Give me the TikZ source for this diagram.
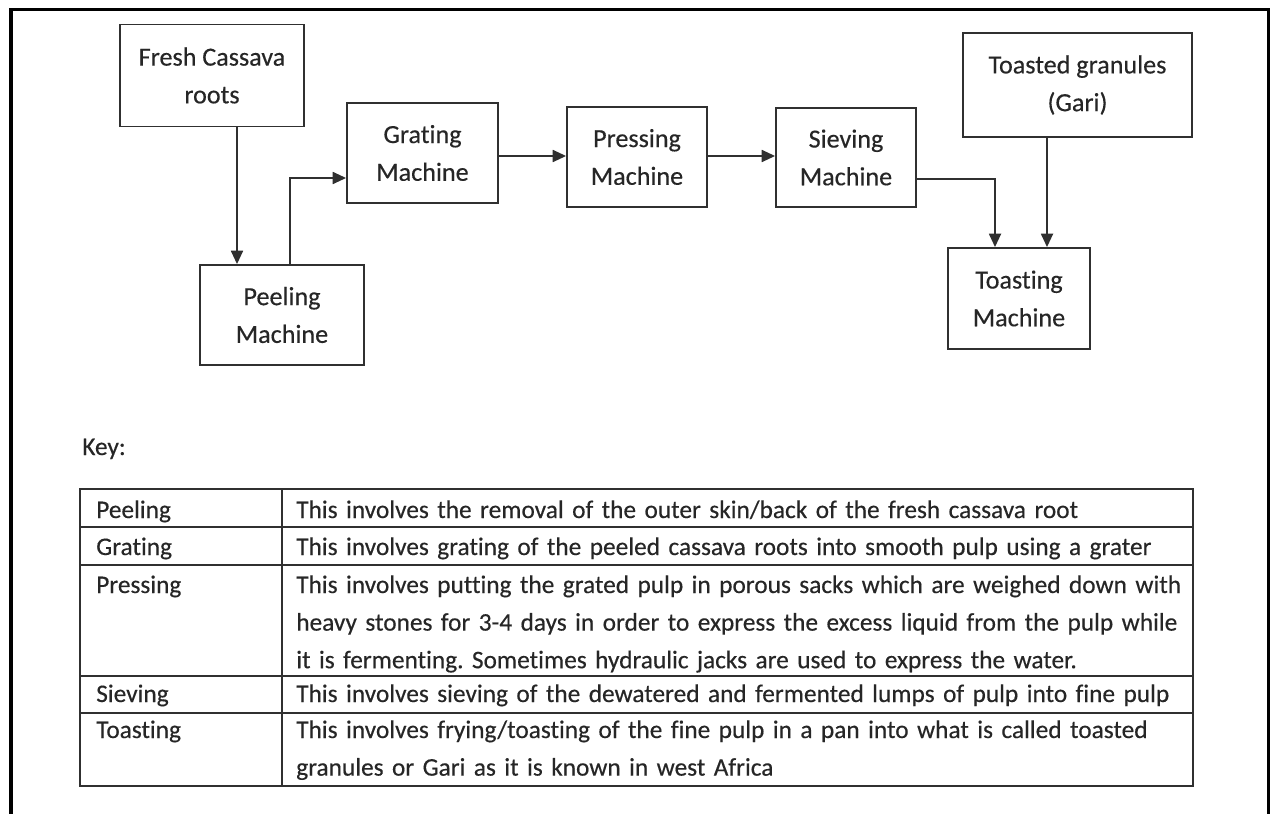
\documentclass[tikz,border=0pt]{standalone}
\usepackage{fontspec}
\setmainfont{Carlito}[Ligatures=NoCommon,FakeBold=0.35]
\frenchspacing
\usetikzlibrary{arrows.meta,calc}
\definecolor{ink}{HTML}{262626}
\definecolor{rule}{HTML}{303030}
\tikzset{
  box/.style={draw=rule,line width=1.4pt,align=center,inner sep=0pt,text=ink,
    font=\fontsize{19.6}{28.3}\selectfont},
  arr/.style={draw=rule,line width=1.3pt,-{Triangle[length=10pt,width=9pt]}},
  cell/.style={anchor=base west,inner sep=0pt,text=ink,align=left,text width=780pt,
    font=\fontsize{19}{28.2}\selectfont},
  tline/.style={draw=rule,line width=1.4pt},
  frame/.style={draw=black,line width=2.6pt}
}
\begin{document}
\begin{tikzpicture}[x=0.75pt,y=-0.75pt]
\useasboundingbox (0,0) rectangle (1276,813);
\fill[white] (0,0) rectangle (1276,813);
% outer frame (open at bottom)
\draw[frame] (11,815) -- (11,9.5) -- (1268.5,9.5) -- (1268.5,815);

% flow boxes
\node[box,minimum width=138pt,minimum height=76.5pt] (fresh) at (212,75.5) {Fresh Cassava\\roots};
\node[box,minimum width=123pt,minimum height=75pt] (peel) at (282,315) {Peeling\\Machine};
\node[box,minimum width=113.25pt,minimum height=75pt] (grate) at (422.5,153) {Grating\\Machine};
\node[box,minimum width=105pt,minimum height=75pt] (press) at (637,157) {Pressing\\Machine};
\node[box,minimum width=105pt,minimum height=74.25pt] (sieve) at (846,157.5) {Sieving\\Machine};
\node[box,minimum width=171.75pt,minimum height=78pt] (gari) at (1077.5,85) {Toasted granules\\(Gari)};
\node[box,minimum width=106.5pt,minimum height=75.75pt] (toast) at (1019,298.5) {Toasting\\Machine};

% connectors
\draw[arr] (fresh.south -| 237,0) -- (peel.north -| 237,0);
\draw[arr] (peel.north -| 290,0) |- (grate.west |- 0,178);
\draw[arr] (grate.east |- 0,156) -- (press.west |- 0,156);
\draw[arr] (press.east |- 0,156) -- (sieve.west |- 0,156);
\draw[arr] (sieve.east |- 0,179) -| (toast.north -| 995,0);
\draw[arr] (gari.south -| 1047,0) -- (toast.north -| 1047,0);

% key
\node[cell,text width=60pt] (key) at (82,455) {Key:};

% table grid
\draw[tline] (80,489) rectangle (1193,786);
\foreach \yy in {527,565,676,713} \draw[tline] (80,\yy) -- (1193,\yy);
\draw[tline] (282,489) -- (282,786);

% table text
\node[cell,text width=180pt] (t1) at (96,518) {Peeling};
\node[cell,text width=180pt] (t2) at (96,555) {Grating};
\node[cell,text width=180pt] (t3) at (96,593) {Pressing};
\node[cell,text width=180pt] (t4) at (96,702) {Sieving};
\node[cell,text width=180pt] (t5) at (96,738) {Toasting};

\node[cell] (d1) at (296,518) {This involves the removal of the outer skin/back of the fresh cassava root};
\node[cell] (d2) at (296,555) {This involves grating of the peeled cassava roots into smooth pulp using a grater};
\node[cell] (d3) at (296,593) {This involves putting the grated pulp in porous sacks which are weighed down with\\heavy stones for 3-4 days in order to express the excess liquid from the pulp while\\it is fermenting. Sometimes hydraulic jacks are used to express the water.};
\node[cell] (d4) at (296,702) {This involves sieving of the dewatered and fermented lumps of pulp into fine pulp};
\node[cell] (d5) at (296,738) {This involves frying/toasting of the fine pulp in a pan into what is called toasted\\granules or Gari as it is known in west Africa};
\end{tikzpicture}
\end{document}
